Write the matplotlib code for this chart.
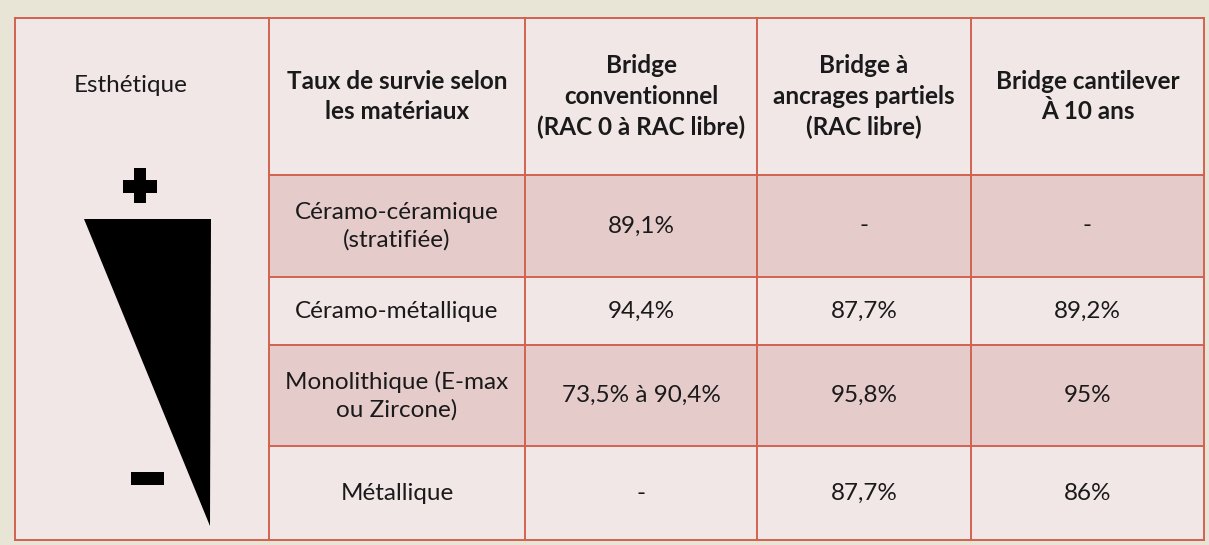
import matplotlib.pyplot as plt
from matplotlib.patches import Rectangle, Polygon

# table content
header = ["Taux de survie selon\nles matériaux",
          "Bridge\nconventionnel\n(RAC 0 à RAC libre)",
          "Bridge à\nancrages partiels\n(RAC libre)",
          "Bridge cantilever\nÀ 10 ans"]
materials = ["Céramo-céramique\n(stratifiée)",
             "Céramo-métallique",
             "Monolithique (E-max\nou Zircone)",
             "Métallique"]
conventionnel = ["89,1%", "94,4%", "73,5% à 90,4%", "-"]
partiels = ["-", "87,7%", "95,8%", "87,7%"]
cantilever = ["-", "89,2%", "95%", "86%"]
side_label = "Esthétique"

# layout in pixels
col_edges = [15, 269, 525, 757, 971, 1204]
row_edges = [18, 175, 277, 345, 446, 540]

border = "#d2624f"
light = "#f2e7e7"
shaded = "#e6cbcb"
outer = "#e9e5d6"
txt = "#1a1a1a"

plt.rcParams['font.family'] = ['Lato', 'DejaVu Sans']

fig = plt.figure(figsize=(12.09, 5.45), dpi=100)
fig.patch.set_facecolor(outer)
ax = fig.add_axes([0, 0, 1, 1])
ax.set_xlim(0, 1209)
ax.set_ylim(545, 0)
ax.axis("off")

# whole table background
ax.add_patch(Rectangle((col_edges[0], row_edges[0]), col_edges[-1] - col_edges[0],
                       row_edges[-1] - row_edges[0], facecolor=light, edgecolor="none"))

# shaded body rows (rows 1 and 3), not in the merged left column
for i in (0, 2):
    y0, y1 = row_edges[i + 1], row_edges[i + 2]
    ax.add_patch(Rectangle((col_edges[1], y0), col_edges[-1] - col_edges[1], y1 - y0,
                           facecolor=shaded, edgecolor="none"))

# grid lines
lw = 1.4
for x in col_edges:
    ax.plot([x, x], [row_edges[0], row_edges[-1]], color=border, lw=lw)
for j, y in enumerate(row_edges):
    x0 = col_edges[0] if j in (0, len(row_edges) - 1) else col_edges[1]
    ax.plot([x0, col_edges[-1]], [y, y], color=border, lw=lw)

# header texts
for k, h in enumerate(header):
    cx = (col_edges[k + 1] + col_edges[k + 2]) / 2
    cy = (row_edges[0] + row_edges[1]) / 2
    ax.text(cx, cy, h, ha="center", va="center", fontsize=17.5, fontweight="bold",
            color=txt, linespacing=1.42)

# body texts
columns = [materials, conventionnel, partiels, cantilever]
for k, col in enumerate(columns):
    cx = (col_edges[k + 1] + col_edges[k + 2]) / 2
    for i, val in enumerate(col):
        cy = (row_edges[i + 1] + row_edges[i + 2]) / 2
        ax.text(cx, cy, val, ha="center", va="center", fontsize=17.5,
                color=txt, linespacing=1.36)

# left merged column: label, plus, wedge, minus
ax.text(131, 86, side_label, ha="center", va="center", fontsize=17.5, color=txt)
ax.add_patch(Rectangle((123, 180), 34, 13, facecolor="black", edgecolor="none"))
ax.add_patch(Rectangle((134, 168), 12, 35, facecolor="black", edgecolor="none"))
ax.add_patch(Polygon([(84, 219), (211, 219), (210, 526)], closed=True,
                     facecolor="black", edgecolor="none"))
ax.add_patch(Rectangle((131, 472), 33, 13, facecolor="black", edgecolor="none"))

fig.savefig("out.png", dpi=100, facecolor=fig.get_facecolor())
